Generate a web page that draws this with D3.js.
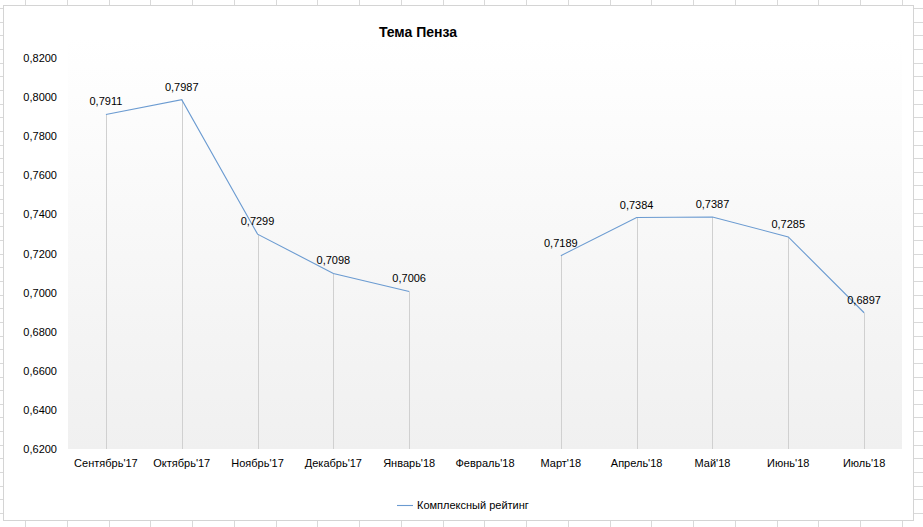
<!DOCTYPE html>
<html><head><meta charset="utf-8">
<script src="https://cdn.jsdelivr.net/npm/d3@7"></script>
<style>body{margin:0;background:#fff}svg{display:block}text{font-family:"Liberation Sans",Arial,sans-serif}</style>
</head><body>
<svg id="c" width="923" height="527"></svg>
<script>
const categories = ["Сентябрь'17","Октябрь'17","Ноябрь'17","Декабрь'17","Январь'18","Февраль'18","Март'18","Апрель'18","Май'18","Июнь'18","Июль'18"];
const values = [0.7911,0.7987,0.7299,0.7098,0.7006,null,0.7189,0.7384,0.7387,0.7285,0.6897];
const yTicks = [0.62,0.64,0.66,0.68,0.70,0.72,0.74,0.76,0.78,0.80,0.82];
const seriesName = "Комплексный рейтинг";
const title = "Тема Пенза";

const svg = d3.select("#c");
const W = 923, H = 527;
const fmt = v => d3.format(".4f")(v).replace(".", ",");

// spreadsheet background grid
const grid = svg.append("g").attr("stroke","#d9d9d9").attr("stroke-width",1);
for (let y = 8; y < H; y += 13.65) grid.append("line").attr("x1",0).attr("x2",W).attr("y1",Math.round(y)+0.5).attr("y2",Math.round(y)+0.5);
for (let x = 25; x < W; x += 41.75) grid.append("line").attr("y1",0).attr("y2",H).attr("x1",Math.round(x)+0.5).attr("x2",Math.round(x)+0.5);

// chart box
svg.append("rect").attr("x",3.5).attr("y",5.5).attr("width",910).attr("height",515).attr("fill","#fff").attr("stroke","#d4d4d4");

const defs = svg.append("defs");
const lg = defs.append("linearGradient").attr("id","bg").attr("x1",0).attr("x2",0).attr("y1",0).attr("y2",1);
lg.append("stop").attr("offset","0%").attr("stop-color","#ffffff");
lg.append("stop").attr("offset","100%").attr("stop-color","#f0f0f0");

const plot = {l:68, r:902, t:58, b:449};
const x = d3.scaleBand().domain(categories).range([plot.l, plot.r]);
const y = d3.scaleLinear().domain([0.62,0.82]).range([plot.b, plot.t]);

svg.append("rect").attr("x",plot.l).attr("y",plot.t-20).attr("width",plot.r-plot.l).attr("height",plot.b-plot.t+20).attr("fill","url(#bg)");

// title
svg.append("text").attr("x",418).attr("y",37).attr("text-anchor","middle").attr("font-weight","bold").attr("font-size",14).attr("fill","#000").text(title);

// y axis
const yAxis = d3.axisLeft(y).tickValues(yTicks).tickFormat(fmt).tickSize(0).tickPadding(0);
const ya = svg.append("g").attr("transform",`translate(${plot.l-11},0)`).call(yAxis);
ya.select(".domain").remove();
ya.selectAll("text").attr("font-size",11).attr("fill","#000").attr("font-family","'Liberation Sans',Arial,sans-serif");

// x axis
const xAxis = d3.axisBottom(x).tickSize(0).tickPadding(0);
const xa = svg.append("g").attr("transform",`translate(0,${plot.b+10})`).call(xAxis);
xa.select(".domain").remove();
xa.selectAll("text").attr("font-size",11).attr("fill","#000").attr("font-family","'Liberation Sans',Arial,sans-serif");

const pts = categories.map((c,i)=>({c, v:values[i]})).filter(d=>d.v!=null);
const cx = d => x(d.c) + x.bandwidth()/2;

// drop lines
svg.append("g").selectAll("line").data(pts).join("line")
  .attr("x1",d=>Math.round(cx(d))+0.5).attr("x2",d=>Math.round(cx(d))+0.5)
  .attr("y1",d=>y(d.v)).attr("y2",plot.b)
  .attr("stroke","#d0d0d0").attr("stroke-width",1);

// line with gap
const line = d3.line().defined(d=>d.v!=null).x(d=>x(d.c)+x.bandwidth()/2).y(d=>y(d.v));
svg.append("path").datum(categories.map((c,i)=>({c, v:values[i]})))
  .attr("d",line).attr("fill","none").attr("stroke","#6b9bd1").attr("stroke-width",1.1);

// data labels
svg.append("g").selectAll("text").data(pts).join("text")
  .attr("x",cx).attr("y",d=>y(d.v)-9).attr("text-anchor","middle")
  .attr("font-size",11).attr("fill","#000").text(d=>fmt(d.v));

// legend
svg.append("line").attr("x1",397).attr("x2",413).attr("y1",505.5).attr("y2",505.5).attr("stroke","#6b9bd1").attr("stroke-width",1.1);
svg.append("text").attr("x",417).attr("y",509).attr("font-size",11).attr("fill","#000").text(seriesName);
</script>
</body></html>
